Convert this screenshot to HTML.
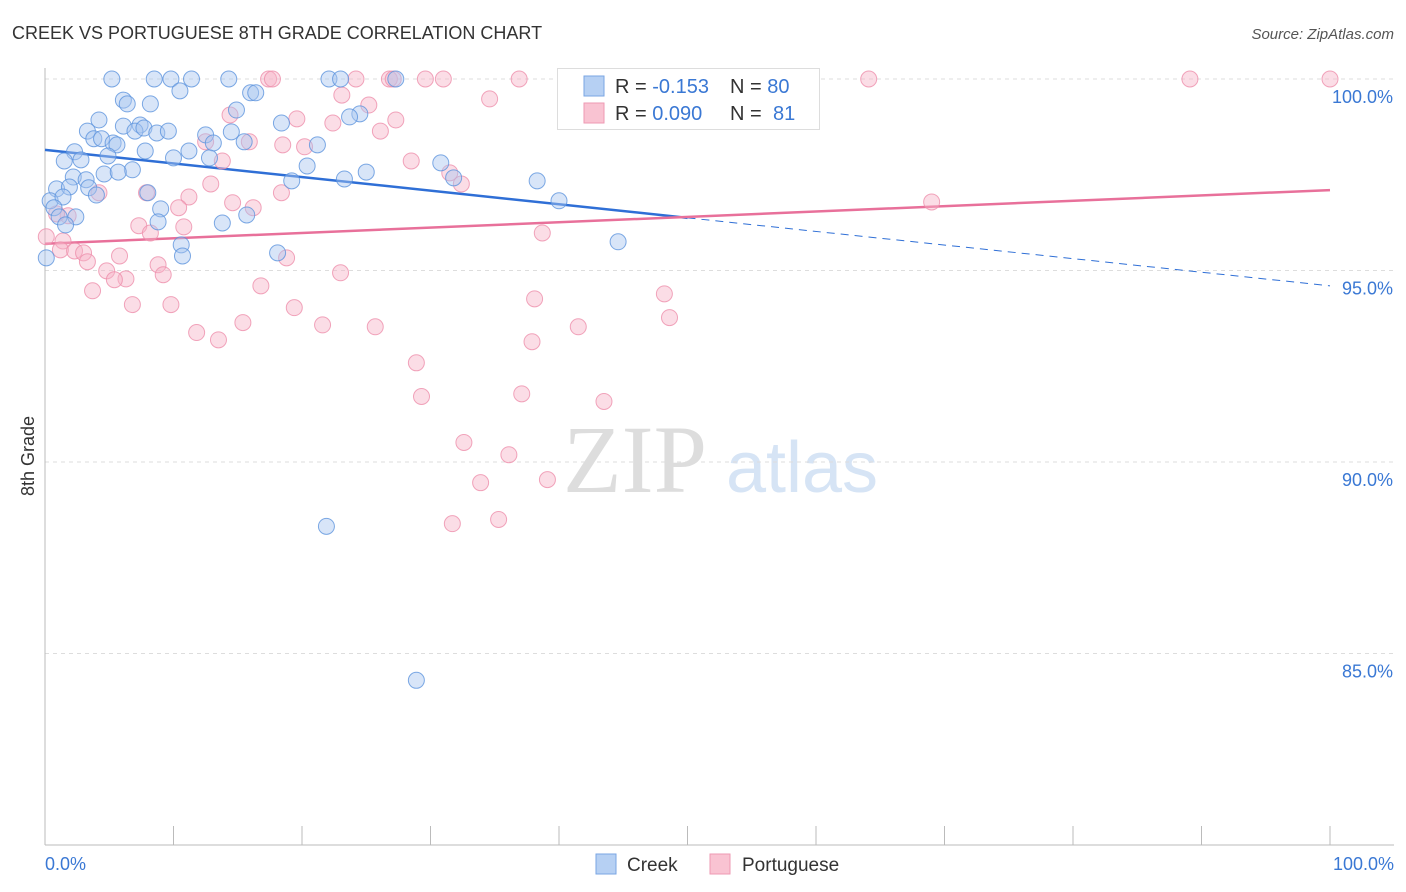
<!DOCTYPE html>
<html><head><meta charset="utf-8"><style>
body{margin:0;background:#fff;font-family:"Liberation Sans",sans-serif;}
svg{display:block}
</style></head><body>
<svg id="chart" width="1406" height="892">
<text x="12" y="39" font-size="18" fill="#333">CREEK VS PORTUGUESE 8TH GRADE CORRELATION CHART</text>
<text x="1394" y="39" font-size="15" fill="#555" font-style="italic" text-anchor="end">Source: ZipAtlas.com</text>
<g>
<text x="635" y="492" font-size="96" fill="#ddd" font-family="Liberation Serif,serif" text-anchor="middle">ZIP</text>
<text x="802" y="492" font-size="72" fill="#d6e4f5" text-anchor="middle">atlas</text>
</g>
<g id="grid"></g>
<g id="axes"></g>
<g id="trends"></g>
<g id="points"></g>
<text transform="translate(34,456) rotate(-90)" font-size="18" fill="#333" text-anchor="middle">8th Grade</text>
<g>
<rect x="557.5" y="68.5" width="262" height="61" fill="#fff" stroke="#ddd"/>
<rect x="584" y="76" width="20" height="20" fill="#b6d0f3" stroke="#7aa6e3"/>
<rect x="584" y="103" width="20" height="20" fill="#f9c3d2" stroke="#ee9ab3"/>
<text x="615" y="93" font-size="20" fill="#333">R = <tspan fill="#3a78d4">-0.153</tspan><tspan x="730">N = </tspan><tspan fill="#3a78d4">80</tspan></text>
<text x="615" y="120" font-size="20" fill="#333">R = <tspan fill="#3a78d4">0.090</tspan><tspan x="730">N = </tspan><tspan fill="#3a78d4" x="773">81</tspan></text>
</g>
<g>
<rect x="596" y="854" width="20" height="20" fill="#b6d0f3" stroke="#7aa6e3"/>
<text x="627" y="871" font-size="19" fill="#333">Creek</text>
<rect x="710" y="854" width="20" height="20" fill="#f9c3d2" stroke="#ee9ab3"/>
<text x="742" y="871" font-size="19" fill="#333">Portuguese</text>
</g>
</svg>
<script>
const yTicks=[100,95,90,85];
const yTickLabels=["100.0%","95.0%","90.0%","85.0%"];
const xTickLabels=["0.0%","100.0%"];
const creekX=[5.2,8.5,9.8,11.4,14.3,22.1,23.0,27.3,10.5,16.0,16.4,6.1,6.4,8.2,14.9,24.5,23.7,4.2,6.1,7.4,18.4,3.3,7.0,7.7,8.7,9.6,12.5,14.5,3.8,4.4,5.3,5.6,13.1,15.5,21.2,2.3,4.9,7.8,11.2,10.0,2.8,1.5,12.8,20.4,30.8,6.8,4.6,5.7,2.2,3.2,25.0,19.2,23.3,38.3,0.9,1.9,3.4,8.0,4.0,31.8,0.4,1.4,40.0,0.7,9.0,2.4,1.1,15.7,13.8,8.8,1.6,10.6,18.1,10.7,44.6,0.1,21.9,28.9];
const creekY=[100,100,100,100,100,100,100,100,99.69,99.64,99.64,99.45,99.35,99.35,99.19,99.09,99.01,98.93,98.77,98.8,98.85,98.64,98.64,98.72,98.59,98.64,98.54,98.62,98.44,98.44,98.33,98.28,98.33,98.36,98.28,98.1,97.99,98.12,98.12,97.94,97.89,97.86,97.94,97.73,97.81,97.63,97.52,97.57,97.44,97.37,97.57,97.34,97.39,97.34,97.13,97.18,97.16,97.03,96.97,97.42,96.82,96.92,96.82,96.64,96.61,96.4,96.4,96.45,96.24,96.27,96.19,95.67,95.46,95.38,95.75,95.33,88.32,84.3];
const portX=[17.4,17.7,24.2,26.8,27.1,29.6,31.0,36.9,64.1,89.1,100,23.1,34.6,25.2,14.4,19.6,27.3,22.4,26.1,12.5,15.9,20.2,18.5,13.8,28.5,31.5,32.4,12.9,18.4,7.9,4.2,11.2,14.6,16.2,69.0,10.4,1.8,0.9,7.3,10.8,8.2,38.7,0.1,1.4,1.2,2.3,3.0,5.8,18.8,8.8,3.3,4.8,6.3,9.2,5.4,23.0,16.8,3.7,38.1,48.2,6.8,9.8,19.4,48.6,15.4,21.6,25.7,41.5,11.8,13.5,37.9,28.9,29.3,37.1,43.5,32.6,36.1,33.9,39.1,31.7,35.3];
const portY=[100,100,100,100,100,100,100,100,100,100,100,99.58,99.48,99.32,99.06,98.96,98.93,98.85,98.64,98.36,98.36,98.23,98.28,97.86,97.86,97.55,97.26,97.26,97.03,97.03,97.03,96.92,96.77,96.64,96.79,96.64,96.43,96.48,96.17,96.14,95.98,95.98,95.88,95.77,95.54,95.51,95.46,95.38,95.33,95.15,95.23,94.99,94.78,94.89,94.76,94.94,94.6,94.47,94.26,94.39,94.11,94.11,94.03,93.77,93.64,93.58,93.53,93.53,93.38,93.19,93.14,92.59,91.71,91.78,91.58,90.51,90.19,89.46,89.54,88.39,88.5];
const creekTrend=[98.15,94.6];
const portTrend=[95.7,97.1];
const NS="http://www.w3.org/2000/svg";
const X0=45,X1=1330,YTOP=79,YMIN=80,YMAX=100,YBOT=845;
function sx(v){return X0+(v/100)*(X1-X0);}
function sy(v){return YTOP+(YMAX-v)/(YMAX-YMIN)*(YBOT-YTOP);}
function mk(tag,attrs,parent){const e=document.createElementNS(NS,tag);for(const k in attrs)e.setAttribute(k,attrs[k]);parent.appendChild(e);return e;}
const grid=document.getElementById('grid'),axes=document.getElementById('axes'),tr=document.getElementById('trends'),pts=document.getElementById('points');
yTicks.forEach((t,i)=>{
 const l=mk('line',{x1:X0,x2:1394,y1:sy(t),y2:sy(t),stroke:'#ddd','stroke-dasharray':'4,4'},grid);
 
 
 const tx=mk('text',{x:1393,y:sy(t)+24,'font-size':18,fill:'#3a78d4','text-anchor':'end'},grid);
 tx.textContent=yTickLabels[i];
 
 
});
const ax=mk('line',{x1:X0,x2:1394,y1:YBOT,y2:YBOT,stroke:'#bbb'},axes);


const ay=mk('line',{x1:X0,x2:X0,y1:68,y2:YBOT,stroke:'#bbb'},axes);


for(let i=0;i<=10;i++){
 const t=mk('line',{x1:sx(i*10),x2:sx(i*10),y1:826,y2:YBOT,stroke:'#bbb'},axes);
 
 
}
[[0,'start',45],[100,'end',1394]].forEach((d,i)=>{
 const t=mk('text',{x:d[2],y:870,'font-size':18,fill:'#3a78d4','text-anchor':d[1]},axes);
 t.textContent=xTickLabels[i];
 
 
});
function drawPts(xs,ys,fill,stroke,name){
 xs.forEach((x,i)=>{
  const c=mk('circle',{cx:sx(x),cy:sy(ys[i]),r:8,fill:fill,'fill-opacity':0.45,stroke:stroke,'stroke-opacity':0.8,'stroke-width':1},pts);
  
  
 });
}
drawPts(portX,portY,'#f7b3c7','#ee8fab','portuguese-point');
drawPts(creekX,creekY,'#a8c6f0','#5d93dd','creek-point');
const split=50;
const cy50=creekTrend[0]+(creekTrend[1]-creekTrend[0])*split/100;
const l1=mk('line',{x1:sx(0),y1:sy(creekTrend[0]),x2:sx(split),y2:sy(cy50),stroke:'#2f6fd6','stroke-width':2.5},tr);


const l2=mk('line',{x1:sx(split),y1:sy(cy50),x2:sx(100),y2:sy(creekTrend[1]),stroke:'#2f6fd6','stroke-width':1,'stroke-dasharray':'8,6'},tr);


const l3=mk('line',{x1:sx(0),y1:sy(portTrend[0]),x2:sx(100),y2:sy(portTrend[1]),stroke:'#e8709a','stroke-width':2.5},tr);


</script>
</body></html>
